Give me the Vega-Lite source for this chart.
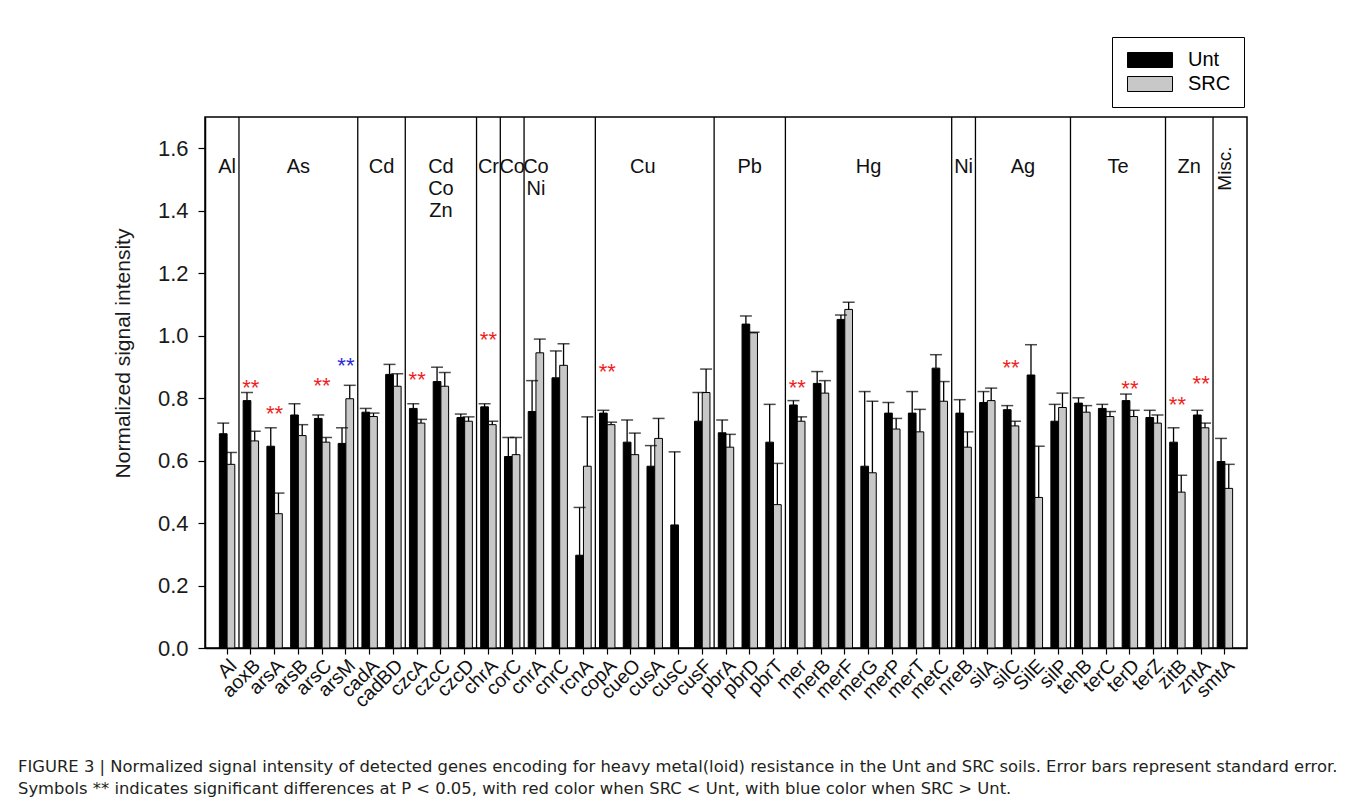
{
  "$schema": "https://vega.github.io/schema/vega-lite/v6.json",
  "width": 1042,
  "height": 531,
  "autosize": {"type": "none"},
  "padding": {"left": 205, "top": 117, "right": 113, "bottom": 156},
  "background": "white",
  "config": {
    "font": "Liberation Sans",
    "view": {"stroke": "black", "strokeWidth": 1.5}
  },
  "title": {
    "text": [
      "FIGURE 3 | Normalized signal intensity of detected genes encoding for heavy metal(loid) resistance in the Unt and SRC soils. Error bars represent standard error.",
      "Symbols ** indicates significant differences at P < 0.05, with red color when SRC < Unt, with blue color when SRC > Unt."
    ],
    "orient": "bottom",
    "anchor": "start",
    "frame": "group",
    "dx": -187,
    "offset": 49,
    "fontSize": 16.4,
    "fontWeight": "normal",
    "font": "DejaVu Sans",
    "color": "#231f20",
    "lineHeight": 22
  },
  "datasets": {
    "bars": [
      {"gene": "Al", "series": "Unt", "value": 0.686, "hi": 0.720},
      {"gene": "Al", "series": "SRC", "value": 0.588, "hi": 0.626},
      {"gene": "aoxB", "series": "Unt", "value": 0.792, "hi": 0.818},
      {"gene": "aoxB", "series": "SRC", "value": 0.663, "hi": 0.694},
      {"gene": "arsA", "series": "Unt", "value": 0.646, "hi": 0.705},
      {"gene": "arsA", "series": "SRC", "value": 0.430, "hi": 0.496},
      {"gene": "arsB", "series": "Unt", "value": 0.746, "hi": 0.782},
      {"gene": "arsB", "series": "SRC", "value": 0.680, "hi": 0.715},
      {"gene": "arsC", "series": "Unt", "value": 0.735, "hi": 0.746},
      {"gene": "arsC", "series": "SRC", "value": 0.659, "hi": 0.674},
      {"gene": "arsM", "series": "Unt", "value": 0.655, "hi": 0.705},
      {"gene": "arsM", "series": "SRC", "value": 0.798, "hi": 0.841},
      {"gene": "cadA", "series": "Unt", "value": 0.755, "hi": 0.767},
      {"gene": "cadA", "series": "SRC", "value": 0.741, "hi": 0.752},
      {"gene": "cadBD", "series": "Unt", "value": 0.876, "hi": 0.908},
      {"gene": "cadBD", "series": "SRC", "value": 0.838, "hi": 0.878},
      {"gene": "czcA", "series": "Unt", "value": 0.767, "hi": 0.782},
      {"gene": "czcA", "series": "SRC", "value": 0.720, "hi": 0.732},
      {"gene": "czcC", "series": "Unt", "value": 0.853, "hi": 0.899},
      {"gene": "czcC", "series": "SRC", "value": 0.838, "hi": 0.882},
      {"gene": "czcD", "series": "Unt", "value": 0.738, "hi": 0.749},
      {"gene": "czcD", "series": "SRC", "value": 0.726, "hi": 0.740},
      {"gene": "chrA", "series": "Unt", "value": 0.772, "hi": 0.782},
      {"gene": "chrA", "series": "SRC", "value": 0.715, "hi": 0.726},
      {"gene": "corC", "series": "Unt", "value": 0.613, "hi": 0.674},
      {"gene": "corC", "series": "SRC", "value": 0.619, "hi": 0.674},
      {"gene": "cnrA", "series": "Unt", "value": 0.757, "hi": 0.856},
      {"gene": "cnrA", "series": "SRC", "value": 0.945, "hi": 0.989},
      {"gene": "cnrC", "series": "Unt", "value": 0.865, "hi": 0.951},
      {"gene": "cnrC", "series": "SRC", "value": 0.905, "hi": 0.974},
      {"gene": "rcnA", "series": "Unt", "value": 0.297, "hi": 0.450},
      {"gene": "rcnA", "series": "SRC", "value": 0.582, "hi": 0.740},
      {"gene": "copA", "series": "Unt", "value": 0.752, "hi": 0.761},
      {"gene": "copA", "series": "SRC", "value": 0.715, "hi": 0.723},
      {"gene": "cueO", "series": "Unt", "value": 0.659, "hi": 0.730},
      {"gene": "cueO", "series": "SRC", "value": 0.619, "hi": 0.688},
      {"gene": "cusA", "series": "Unt", "value": 0.582, "hi": 0.648},
      {"gene": "cusA", "series": "SRC", "value": 0.671, "hi": 0.735},
      {"gene": "cusC", "series": "Unt", "value": 0.394, "hi": 0.628},
      {"gene": "cusF", "series": "Unt", "value": 0.726, "hi": 0.818},
      {"gene": "cusF", "series": "SRC", "value": 0.818, "hi": 0.893},
      {"gene": "pbrA", "series": "Unt", "value": 0.689, "hi": 0.730},
      {"gene": "pbrA", "series": "SRC", "value": 0.643, "hi": 0.684},
      {"gene": "pbrD", "series": "Unt", "value": 1.037, "hi": 1.063},
      {"gene": "pbrD", "series": "SRC", "value": 1.009, "hi": 1.011},
      {"gene": "pbrT", "series": "Unt", "value": 0.659, "hi": 0.780},
      {"gene": "pbrT", "series": "SRC", "value": 0.459, "hi": 0.591},
      {"gene": "mer", "series": "Unt", "value": 0.778, "hi": 0.792},
      {"gene": "mer", "series": "SRC", "value": 0.726, "hi": 0.740},
      {"gene": "merB", "series": "Unt", "value": 0.847, "hi": 0.885},
      {"gene": "merB", "series": "SRC", "value": 0.816, "hi": 0.856},
      {"gene": "merF", "series": "Unt", "value": 1.052, "hi": 1.066},
      {"gene": "merF", "series": "SRC", "value": 1.084, "hi": 1.107},
      {"gene": "merG", "series": "Unt", "value": 0.582, "hi": 0.821},
      {"gene": "merG", "series": "SRC", "value": 0.561, "hi": 0.790},
      {"gene": "merP", "series": "Unt", "value": 0.752, "hi": 0.786},
      {"gene": "merP", "series": "SRC", "value": 0.701, "hi": 0.735},
      {"gene": "merT", "series": "Unt", "value": 0.752, "hi": 0.821},
      {"gene": "merT", "series": "SRC", "value": 0.692, "hi": 0.764},
      {"gene": "metC", "series": "Unt", "value": 0.896, "hi": 0.939},
      {"gene": "metC", "series": "SRC", "value": 0.790, "hi": 0.853},
      {"gene": "nreB", "series": "Unt", "value": 0.752, "hi": 0.795},
      {"gene": "nreB", "series": "SRC", "value": 0.643, "hi": 0.692},
      {"gene": "silA", "series": "Unt", "value": 0.786, "hi": 0.821},
      {"gene": "silA", "series": "SRC", "value": 0.792, "hi": 0.832},
      {"gene": "silC", "series": "Unt", "value": 0.763, "hi": 0.776},
      {"gene": "silC", "series": "SRC", "value": 0.711, "hi": 0.726},
      {"gene": "SilE", "series": "Unt", "value": 0.874, "hi": 0.971},
      {"gene": "SilE", "series": "SRC", "value": 0.482, "hi": 0.646},
      {"gene": "silP", "series": "Unt", "value": 0.726, "hi": 0.780},
      {"gene": "silP", "series": "SRC", "value": 0.770, "hi": 0.816},
      {"gene": "tehB", "series": "Unt", "value": 0.784, "hi": 0.801},
      {"gene": "tehB", "series": "SRC", "value": 0.755, "hi": 0.776},
      {"gene": "terC", "series": "Unt", "value": 0.767, "hi": 0.780},
      {"gene": "terC", "series": "SRC", "value": 0.741, "hi": 0.757},
      {"gene": "terD", "series": "Unt", "value": 0.792, "hi": 0.813},
      {"gene": "terD", "series": "SRC", "value": 0.741, "hi": 0.761},
      {"gene": "terZ", "series": "Unt", "value": 0.738, "hi": 0.761},
      {"gene": "terZ", "series": "SRC", "value": 0.720, "hi": 0.746},
      {"gene": "zitB", "series": "Unt", "value": 0.659, "hi": 0.705},
      {"gene": "zitB", "series": "SRC", "value": 0.499, "hi": 0.553},
      {"gene": "zntA", "series": "Unt", "value": 0.746, "hi": 0.761},
      {"gene": "zntA", "series": "SRC", "value": 0.705, "hi": 0.720},
      {"gene": "smtA", "series": "Unt", "value": 0.597, "hi": 0.671},
      {"gene": "smtA", "series": "SRC", "value": 0.511, "hi": 0.588}
    ],
    "stars": [
      {"gene": "aoxB", "y": 0.847, "dir": "down"},
      {"gene": "arsA", "y": 0.764, "dir": "down"},
      {"gene": "arsC", "y": 0.856, "dir": "down"},
      {"gene": "arsM", "y": 0.919, "dir": "up"},
      {"gene": "czcA", "y": 0.873, "dir": "down"},
      {"gene": "chrA", "y": 1.003, "dir": "down"},
      {"gene": "copA", "y": 0.899, "dir": "down"},
      {"gene": "mer", "y": 0.847, "dir": "down"},
      {"gene": "silC", "y": 0.913, "dir": "down"},
      {"gene": "terD", "y": 0.845, "dir": "down"},
      {"gene": "zitB", "y": 0.795, "dir": "down"},
      {"gene": "zntA", "y": 0.862, "dir": "down"}
    ],
    "separators": [
      {"gene": "Al"}, {"gene": "arsM"}, {"gene": "cadBD"}, {"gene": "czcD"},
      {"gene": "chrA"}, {"gene": "corC"}, {"gene": "rcnA"}, {"gene": "cusF"},
      {"gene": "pbrT"}, {"gene": "metC"}, {"gene": "nreB"}, {"gene": "silP"},
      {"gene": "terZ"}, {"gene": "zntA"}
    ],
    "groupsMid": [
      {"gene": "Al", "label": "Al"},
      {"gene": "arsB", "label": "As"},
      {"gene": "czcC", "label": "Cd\nCo\nZn"},
      {"gene": "chrA", "label": "Cr"},
      {"gene": "corC", "label": "Co"},
      {"gene": "cnrA", "label": "Co\nNi"},
      {"gene": "pbrD", "label": "Pb"},
      {"gene": "merG", "label": "Hg"},
      {"gene": "nreB", "label": "Ni"}
    ],
    "groupsEdge": [
      {"gene": "cadA", "label": "Cd"},
      {"gene": "cueO", "label": "Cu"},
      {"gene": "silC", "label": "Ag"},
      {"gene": "terC", "label": "Te"},
      {"gene": "zitB", "label": "Zn"}
    ],
    "groupsRot": [
      {"gene": "smtA", "label": "Misc."}
    ]
  },
  "layer": [
    {
      "data": {"name": "bars"},
      "mark": {"type": "bar", "stroke": "black", "strokeWidth": 1},
      "encoding": {
        "x": {
          "field": "gene", "type": "nominal",
          "scale": {
            "domain": ["Al","aoxB","arsA","arsB","arsC","arsM","cadA","cadBD","czcA","czcC","czcD","chrA","corC","cnrA","cnrC","rcnA","copA","cueO","cusA","cusC","cusF","pbrA","pbrD","pbrT","mer","merB","merF","merG","merP","merT","metC","nreB","silA","silC","SilE","silP","tehB","terC","terD","terZ","zitB","zntA","smtA"],
            "paddingInner": 0, "paddingOuter": 0.43
          },
          "axis": {
            "title": null, "labelAngle": -45, "labelFontSize": 19.5, "labelColor": "#111111",
            "tickSize": 6, "labelPadding": 2, "domainColor": "black", "tickColor": "black",
            "domainWidth": 1.5, "tickWidth": 1.2, "labelFont": "Liberation Sans"
          }
        },
        "xOffset": {"field": "series", "type": "nominal", "scale": {"domain": ["Unt", "SRC"], "paddingInner": 0, "paddingOuter": 0.54}},
        "y": {
          "field": "value", "type": "quantitative",
          "scale": {"domain": [0, 1.7], "nice": false, "zero": true},
          "axis": {
            "title": "Normalized signal intensity", "titleFontSize": 21, "titleFontWeight": "normal",
            "titleColor": "#1a1a1a", "titleX": -82, "titleY": 236, "titleAngle": 270,
            "titleBaseline": "middle", "titleAlign": "center", "titleFont": "Liberation Sans",
            "values": [0, 0.2, 0.4, 0.6, 0.8, 1.0, 1.2, 1.4, 1.6], "format": ".1f",
            "labelFontSize": 22, "labelColor": "#1a1a1a", "tickSize": 7, "labelPadding": 10,
            "grid": false, "domainColor": "black", "tickColor": "black", "domainWidth": 1.5,
            "tickWidth": 1.2, "labelFont": "Liberation Sans"
          }
        },
        "color": {
          "field": "series", "type": "nominal",
          "scale": {"domain": ["Unt", "SRC"], "range": ["#000000", "#c8c8c8"]},
          "legend": {
            "title": null, "orient": "none", "legendX": 907, "legendY": -80,
            "strokeColor": "black", "padding": 13,
            "symbolType": "M-1,-1H5V1H-1Z", "symbolSize": 225,
            "symbolStrokeColor": "black", "symbolStrokeWidth": 1, "symbolOpacity": 1,
            "labelOffset": 43, "labelFontSize": 20, "labelFont": "Liberation Sans",
            "labelColor": "black", "rowPadding": 4
          }
        }
      }
    },
    {
      "data": {"name": "bars"},
      "mark": {"type": "rule", "color": "black", "strokeWidth": 1.3},
      "encoding": {
        "x": {"field": "gene", "type": "nominal"},
        "xOffset": {"field": "series", "type": "nominal"},
        "y": {"field": "value", "type": "quantitative"},
        "y2": {"field": "hi"}
      }
    },
    {
      "data": {"name": "bars"},
      "mark": {"type": "tick", "color": "black", "size": 12, "thickness": 1.5, "orient": "horizontal"},
      "encoding": {
        "x": {"field": "gene", "type": "nominal"},
        "xOffset": {"field": "series", "type": "nominal"},
        "y": {"field": "hi", "type": "quantitative"}
      }
    },
    {
      "data": {"name": "separators"},
      "mark": {"type": "rule", "color": "black", "strokeWidth": 1.3},
      "encoding": {
        "x": {"field": "gene", "type": "nominal", "bandPosition": 1}
      }
    },
    {
      "data": {"name": "stars"},
      "mark": {"type": "text", "fontSize": 22, "baseline": "alphabetic", "align": "center", "dy": 12, "font": "Liberation Sans"},
      "encoding": {
        "x": {"field": "gene", "type": "nominal"},
        "y": {"field": "y", "type": "quantitative"},
        "text": {"value": "**"},
        "color": {"condition": {"test": "datum.dir === 'up'", "value": "#2a2ad8"}, "value": "#f01e1e"}
      }
    },
    {
      "data": {"name": "groupsMid"},
      "mark": {"type": "text", "fontSize": 20, "baseline": "middle", "align": "center", "lineBreak": "\n", "lineHeight": 22, "color": "#111", "font": "Liberation Sans"},
      "encoding": {
        "x": {"field": "gene", "type": "nominal", "bandPosition": 0.5},
        "y": {"datum": 1.54, "type": "quantitative"},
        "text": {"field": "label"}
      }
    },
    {
      "data": {"name": "groupsEdge"},
      "mark": {"type": "text", "fontSize": 20, "baseline": "middle", "align": "center", "color": "#111", "font": "Liberation Sans"},
      "encoding": {
        "x": {"field": "gene", "type": "nominal", "bandPosition": 1},
        "y": {"datum": 1.54, "type": "quantitative"},
        "text": {"field": "label"}
      }
    },
    {
      "data": {"name": "groupsRot"},
      "mark": {"type": "text", "fontSize": 19, "baseline": "middle", "align": "center", "angle": 270, "color": "#111", "font": "Liberation Sans"},
      "encoding": {
        "x": {"field": "gene", "type": "nominal", "bandPosition": 0.5},
        "y": {"datum": 1.535, "type": "quantitative"},
        "text": {"field": "label"}
      }
    }
  ]
}
